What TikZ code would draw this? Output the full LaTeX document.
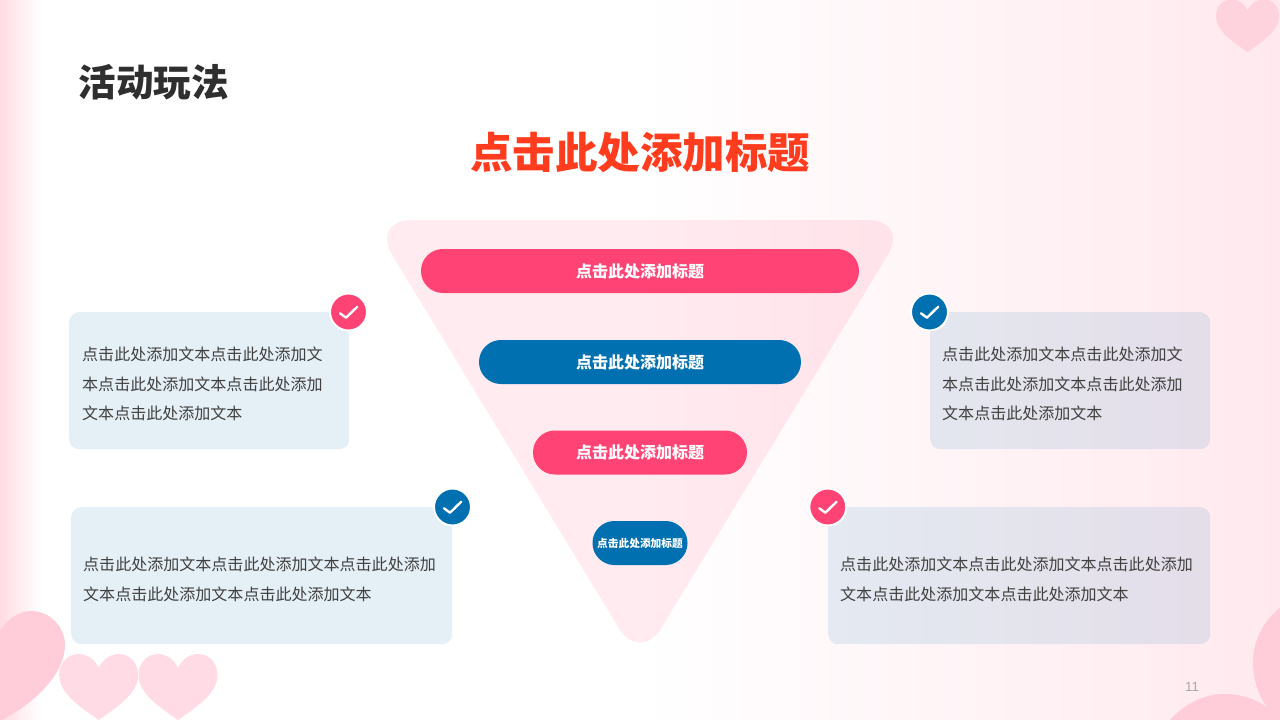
\documentclass[tikz,border=0pt]{standalone}
\usepackage{fontspec}
\newfontfamily\cjk{Noto Sans CJK SC}
\newfontfamily\latinf{Liberation Sans}
\definecolor{hotpink}{HTML}{FF4374}
\definecolor{deepblue}{HTML}{0070B0}
\definecolor{titlered}{HTML}{FF3C1E}
\definecolor{inkdark}{HTML}{2F2F2F}
\definecolor{inkbody}{HTML}{404040}
\definecolor{heartA}{HTML}{FFDCE5}
\definecolor{heartB}{HTML}{FFCDD9}
\definecolor{heartC}{HTML}{FFD3DE}
\definecolor{edgepink}{HTML}{FFDCE3}
\definecolor{rightpink}{HTML}{FFE9EE}
\definecolor{pagegrey}{HTML}{A8A8A8}
\pgfdeclarehorizontalshading{pagebg}{100bp}{color(0bp)=(edgepink); color(25bp)=(edgepink); color(26.6bp)=(white); color(50bp)=(white); color(75bp)=(rightpink); color(100bp)=(rightpink)}
\tikzset{
  pill/.style={rounded corners=21.9pt,inner sep=0pt,text=white,font=\cjk\bfseries\fontsize{16}{18}\selectfont},
  infobox/.style={anchor=north west,inner sep=0pt,rounded corners=10pt,fill=deepblue,fill opacity=0.105},
  bodytext/.style={anchor=west,inner sep=0pt,align=left,text=inkbody,font=\cjk\fontsize{16.03}{29.5}\selectfont},
  badge/.style={circle,inner sep=0pt,minimum size=37pt,draw=white,line width=2pt},
  tick/.style={draw=white,line width=2.4pt,line cap=round,line join=round},
}
\newcommand{\heartpath}{(0,0) .. controls (4,-9) and (12,-14) .. (20,-14) .. controls (32,-14) and (39.5,-4) .. (39.5,7) .. controls (39.5,26) and (17,40) .. (0,52) .. controls (-17,40) and (-39.5,26) .. (-39.5,7) .. controls (-39.5,-4) and (-32,-14) .. (-20,-14) .. controls (-12,-14) and (-4,-9) .. (0,0) -- cycle}
\newcommand{\tickon}[1]{\draw[tick] ([shift={(-8.5,1.3)}]#1.center) -- ([shift={(-2.5,5.7)}]#1.center) -- ([shift={(8.8,-5.3)}]#1.center);}
\begin{document}
\begin{tikzpicture}[x=1pt,y=-1pt]
\useasboundingbox (0,0) rectangle (1280,720);
\clip (0,0) rectangle (1280,720);
% background
\shade[shading=pagebg,shading angle=0] (0,0) rectangle (1280,720);
% hearts
\fill[heartA,shift={(98.7,668)}] \heartpath;
\fill[heartA,shift={(178,668)}] \heartpath;
\fill[heartC,shift={(1247.5,10.5)},scale=0.8] \heartpath;
\fill[heartB] (-2,634) .. controls (6,620) and (18,611) .. (31,611) .. controls (50,611) and (65,627) .. (65,645) .. controls (65,672) and (38,702) .. (-2,722) -- cycle;
\fill[heartB] (1282,606) .. controls (1264,620) and (1253,640) .. (1253,662) .. controls (1253,680) and (1259,697) .. (1268,708) .. controls (1256,699) and (1241,694) .. (1224,694) .. controls (1203,694) and (1183,705) .. (1168,722) -- (1282,722) -- cycle;
% funnel
\fill[hotpink,fill opacity=0.105,rounded corners=41pt] (371,220) -- (909,220) -- (640,663) -- cycle;
% titles
\node[anchor=center,inner sep=0pt,text=inkdark,font=\cjk\bfseries\fontsize{37.5}{40}\selectfont] (heading) at (153.5,82) {活动玩法};
\node[anchor=center,inner sep=0pt,text=titlered,font=\cjk\bfseries\fontsize{42.5}{46}\selectfont] (maintitle) at (640,152) {点击此处添加标题};
% pills
\node[pill,fill=hotpink,minimum width=438pt,minimum height=44pt] (p1) at (640,271) {\raisebox{-0.5pt}{点击此处添加标题}};
\node[pill,fill=deepblue,minimum width=322pt,minimum height=44pt] (p2) at (640,362) {点击此处添加标题};
\node[pill,fill=hotpink,minimum width=214pt,minimum height=44pt] (p3) at (640,452.5) {点击此处添加标题};
\node[pill,fill=deepblue,minimum width=95pt,minimum height=44pt,font=\cjk\bfseries\fontsize{10.7}{12}\selectfont] (p4) at (640,543) {点击此处添加标题};
% boxes
\node[infobox,minimum width=280pt,minimum height=137pt] (b1) at (69,312) {};
\node[infobox,minimum width=280pt,minimum height=137pt] (b2) at (930,312) {};
\node[infobox,minimum width=381pt,minimum height=137pt] (b3) at (71,507) {};
\node[infobox,minimum width=382pt,minimum height=137pt] (b4) at (828,507) {};
% body text
\node[bodytext] (t1) at (82,384) {点击此处添加文本点击此处添加文\\本点击此处添加文本点击此处添加\\文本点击此处添加文本};
\node[bodytext] (t2) at (942,384) {点击此处添加文本点击此处添加文\\本点击此处添加文本点击此处添加\\文本点击此处添加文本};
\node[bodytext] (t3) at (83,579.5) {点击此处添加文本点击此处添加文本点击此处添加\\文本点击此处添加文本点击此处添加文本};
\node[bodytext] (t4) at (840,579.5) {点击此处添加文本点击此处添加文本点击此处添加\\文本点击此处添加文本点击此处添加文本};
% badges
\node[badge,fill=hotpink] (c1) at (348.5,312) {};
\node[badge,fill=deepblue] (c2) at (929.5,312) {};
\node[badge,fill=deepblue] (c3) at (452.5,507) {};
\node[badge,fill=hotpink] (c4) at (827.8,507) {};
\tickon{c1}\tickon{c2}\tickon{c3}\tickon{c4}
% page number
\node[inner sep=0pt,text=pagegrey,font=\latinf\fontsize{13.3}{15}\selectfont] (pg) at (1192,687) {11};
\end{tikzpicture}
\end{document}
